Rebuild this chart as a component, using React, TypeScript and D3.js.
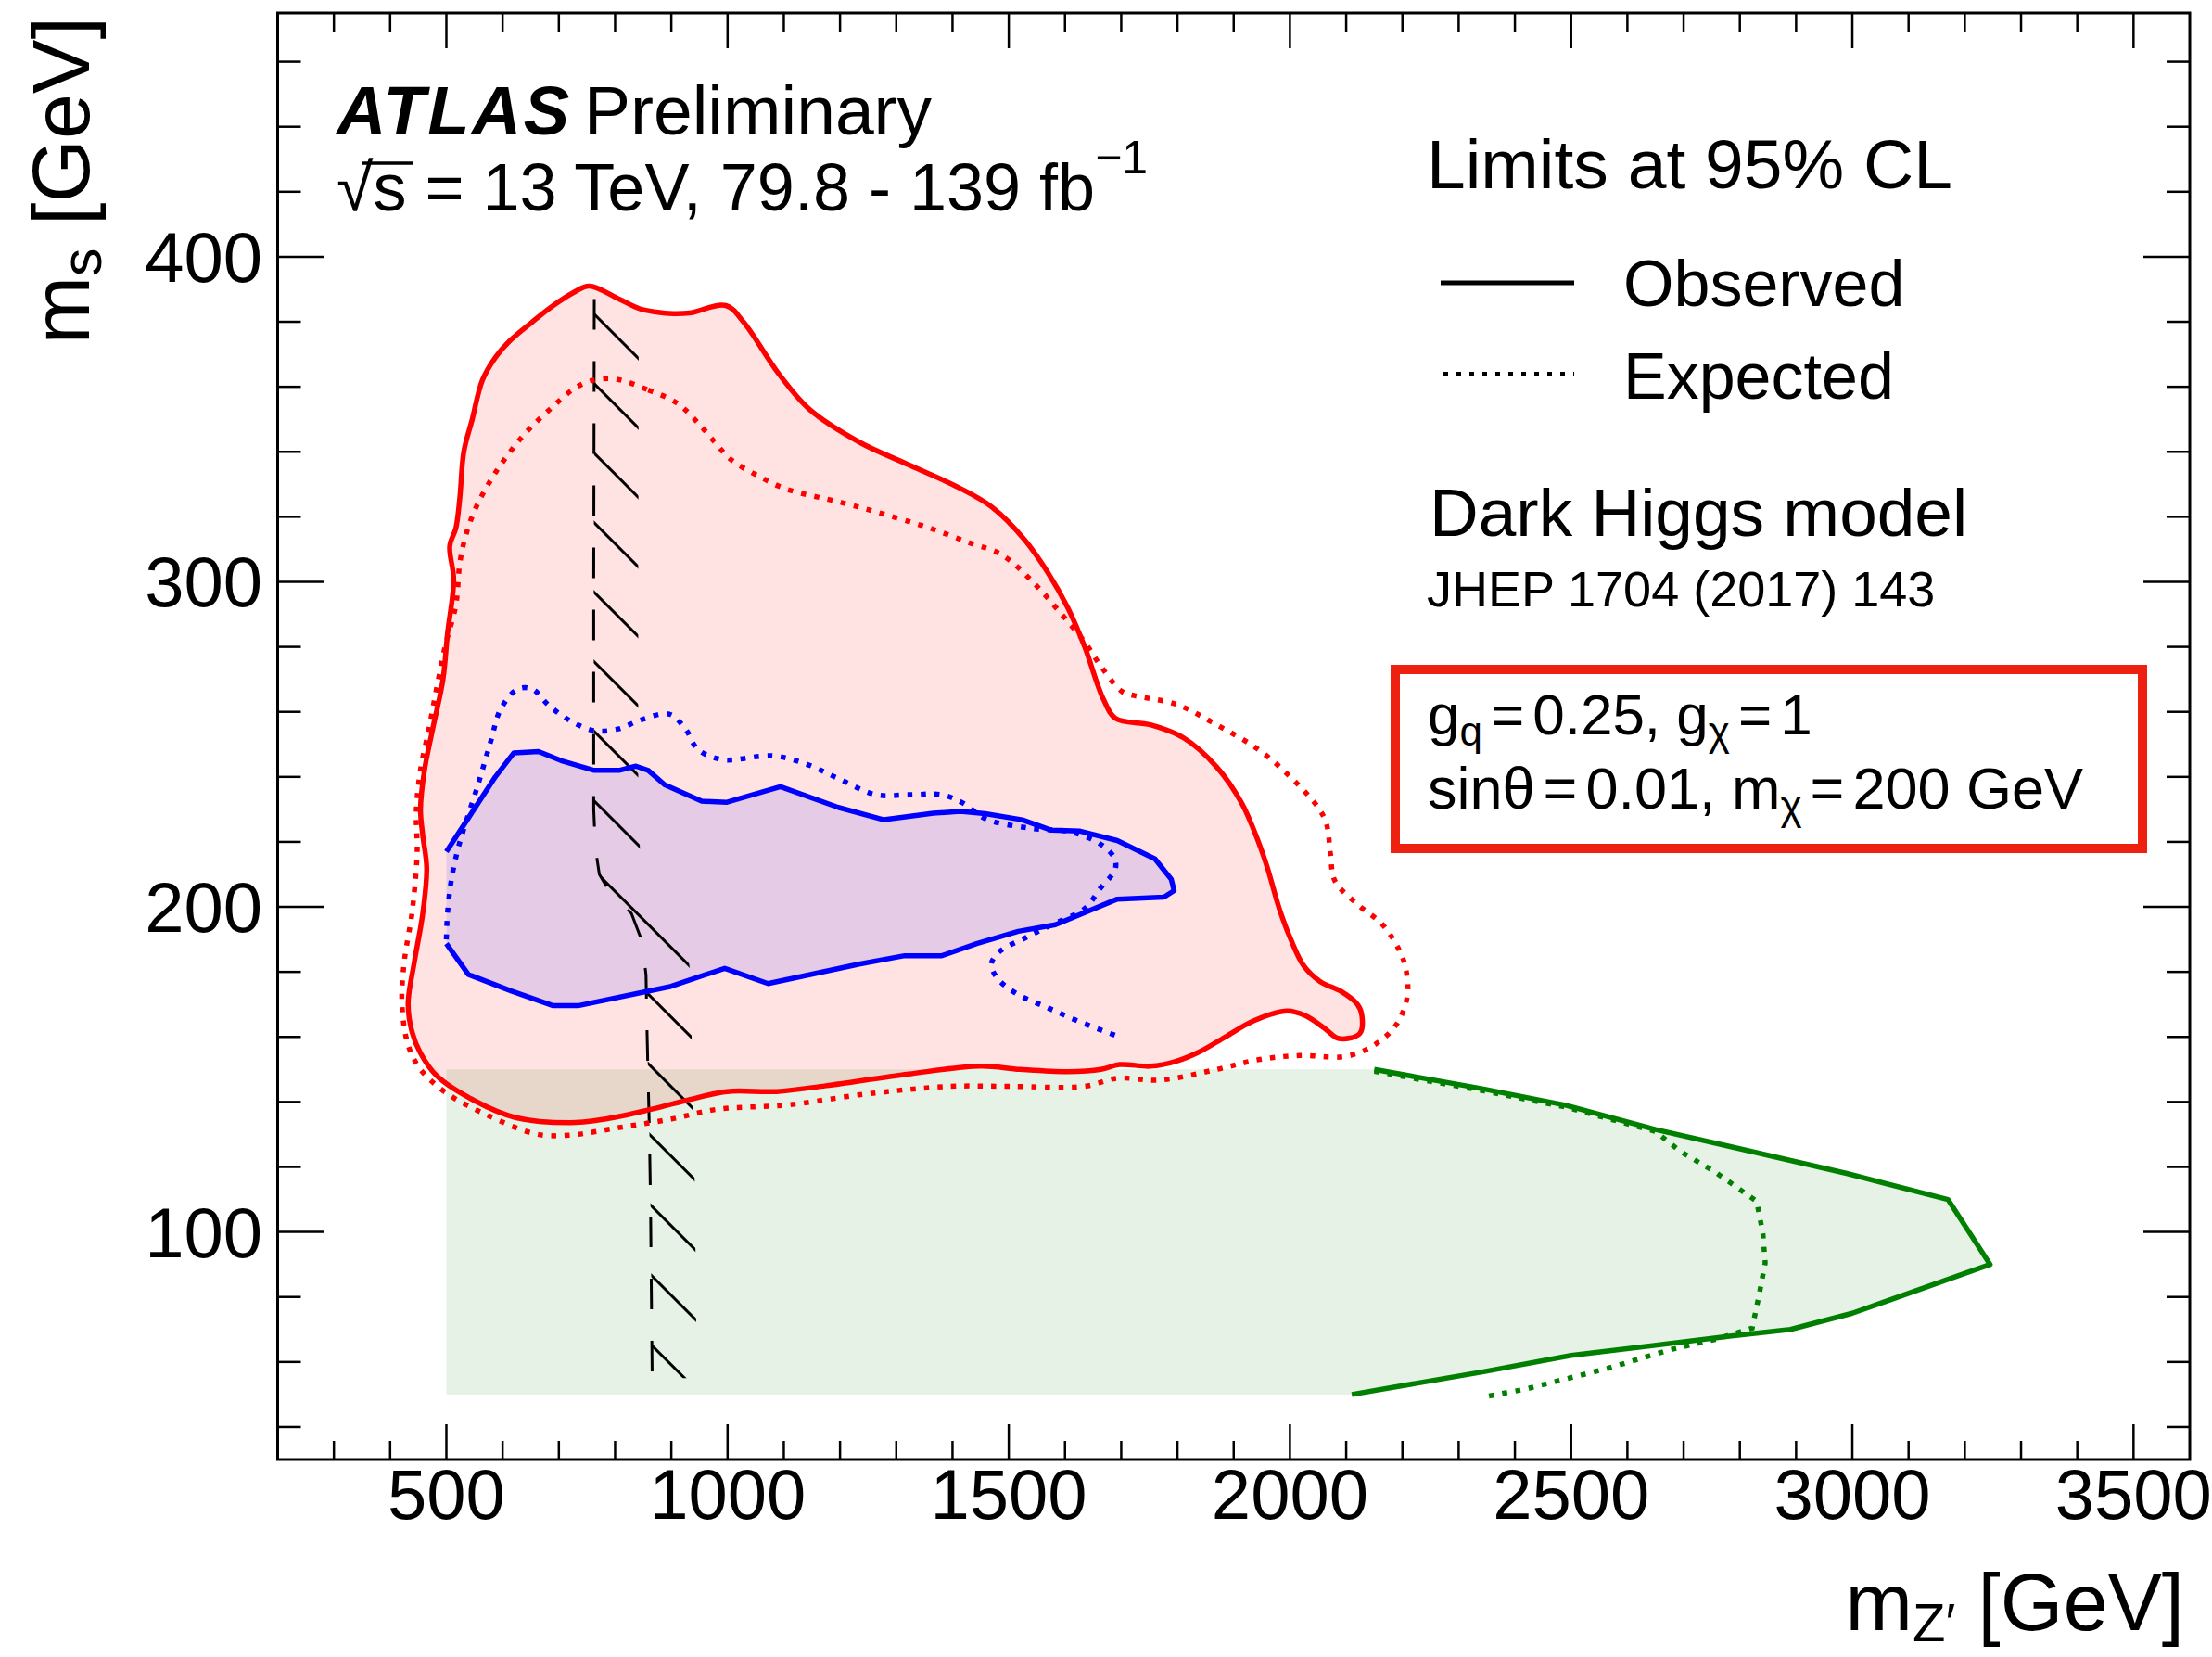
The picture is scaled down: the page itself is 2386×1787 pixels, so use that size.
import React from 'react';
import * as d3 from 'd3';

const W = 2386;
const H = 1787;
const FRAME = { left: 299.5, right: 2362, top: 14, bottom: 1574 };
const X_DOMAIN: [number, number] = [200, 3600];
const Y_DOMAIN: [number, number] = [30, 475];
const X_MAJOR = [500, 1000, 1500, 2000, 2500, 3000, 3500];
const Y_MAJOR = [100, 200, 300, 400];
const X_MINOR = d3.range(300, 3600, 100).filter((v) => v % 500 !== 0);
const Y_MINOR = d3.range(40, 475, 20).filter((v) => v % 100 !== 0);

// [mZ', ms] in GeV
const redObserved: [number, number][] = [
  [754, 391], [807, 387], [844, 384], [873, 383], [903, 382.5], [932, 382.7], [997, 385], [1028, 380],
  [1091, 364], [1146, 353], [1234, 343], [1322, 336], [1411, 329], [1470, 323], [1528, 313], [1569, 303],
  [1605, 292], [1635, 280], [1668, 264], [1690, 258], [1752, 256], [1811, 252], [1870, 243], [1914, 232],
  [1944, 220], [1960, 212], [1981, 199.5], [2003, 189.4], [2024, 182], [2054, 177], [2091, 174], [2120, 170],
  [2128, 166.5], [2124, 161], [2087, 159.5], [2062, 162.6], [2028, 166.5], [1995, 168], [1936, 165],
  [1885, 160], [1841, 155.6], [1797, 152.5], [1752, 151], [1697, 151.5], [1664, 150], [1605, 149.3],
  [1520, 150], [1450, 151], [1322, 148.6], [1175, 145], [1087, 143.2], [999, 143.2], [925, 140.4],
  [851, 137.2], [778, 134.6], [719, 133.6], [623, 135.2], [550, 140.4], [483, 148], [454, 155], [439, 161.5],
  [432, 170.3], [443, 183], [458, 198], [465, 212], [458, 222], [454, 230], [461, 242], [476, 255],
  [494, 270], [502, 284], [513, 300.6], [506, 311], [517, 316.6], [524, 326], [531, 340], [546, 350],
  [564, 362], [587, 369], [612, 374], [653, 380], [690, 385], [726, 389],
];

const redExpected: [number, number][] = [
  [800, 362.4], [859, 359], [910, 355], [947, 349], [977, 343], [1006, 337.6], [1050, 333], [1102, 328.7],
  [1205, 324.3], [1286, 320.4], [1360, 316.5], [1430, 312], [1487, 308.4], [1546, 299.4], [1598, 289.2],
  [1635, 281.5], [1664, 274], [1701, 266.3], [1723, 265], [1797, 262.4], [1870, 256], [1944, 248.4],
  [2003, 239.6], [2050, 230.6], [2065, 225.5], [2072, 216.4], [2080, 208], [2120, 200.8], [2165, 194.5],
  [2194, 186.8], [2205, 181.7], [2209, 172.9], [2190, 164], [2150, 157.5], [2099, 154], [2017, 154.3],
  [1944, 153], [1870, 150], [1767, 146.7], [1693, 147.3], [1635, 144.8], [1502, 144.8], [1396, 144.8],
  [1249, 142.5], [1102, 139], [984, 137.8], [896, 134.6], [807, 132.1], [719, 129.8], [660, 130.1],
  [572, 136], [498, 143], [454, 150], [432, 157.5], [421, 170.3], [425, 183], [439, 198.3], [448, 216.6],
  [446.5, 229.4], [454, 242.2], [469, 254.8], [483, 267.6], [498, 280.3], [517, 293], [524, 305.8],
  [535, 314.6], [553, 323], [579, 331.3], [609, 339], [645, 346.6], [690, 354], [726, 359.3], [756, 361.8],
];

const blueObserved: [number, number][] = [
  [500, 217], [587, 240], [620, 247.4], [664, 247.8], [704, 245], [763, 242], [807, 242], [837, 243.3],
  [859, 242], [888, 237.6], [954, 232.5], [999, 232.2], [1094, 237], [1197, 230.6], [1278, 226.8],
  [1366, 228.8], [1414, 229.4], [1458, 228.7], [1524, 226.8], [1576, 223.6], [1627, 223.3], [1693, 220.4],
  [1760, 214.8], [1789, 208.5], [1794, 205], [1776, 203], [1693, 202.4], [1583, 194.5], [1517, 192.5],
  [1443, 188.7], [1381, 185], [1315, 185], [1234, 182.4], [1072, 176.4], [995, 181.1], [896, 175.4],
  [734, 169.6], [690, 169.6], [616, 174.1], [539, 179.2], [500, 188.7],
];

const blueExpected: [number, number][] = [
  [500, 190], [502, 198], [509, 208.5], [520, 217.4], [531, 224], [557, 238], [579, 251], [597, 261],
  [627, 267], [653, 267], [682, 262], [719, 257.4], [763, 254.2], [807, 254.8], [844, 257.4], [896, 259.3],
  [925, 254.8], [947, 248.5], [991, 245.3], [1080, 246.5], [1139, 244], [1197, 239.5], [1264, 234.5],
  [1322, 234.5], [1381, 234.5], [1418, 232], [1460, 227], [1539, 224.2], [1612, 223], [1664, 219.2],
  [1688, 215], [1690, 212], [1683, 209.7], [1664, 206], [1635, 199.5], [1576, 194.5], [1531, 190.6],
  [1484, 186.3], [1469, 182.4], [1480, 178], [1513, 173.4], [1569, 169], [1627, 164.6], [1697, 160],
];

const greenObserved: [number, number][] = [
  [2150, 150], [2344, 144], [2490, 139], [2650, 131.5], [2790, 126], [2990, 118], [3170, 110], [3245, 90],
  [3000, 75], [2890, 70], [2785, 68], [2500, 62], [2344, 57], [2110, 50],
];
const greenBandCorners: [number, number][] = [[500, 50], [500, 150]];

const greenExpected: [number, number][] = [
  [2150, 150], [2344, 144], [2490, 139], [2650, 131.5], [2693, 125.5], [2756, 119], [2830, 110],
  [2841, 100], [2845, 91], [2834, 81], [2822, 71], [2756, 67.5], [2675, 64.3], [2565, 58.6],
  [2418, 52.2], [2350, 50],
];

const boundaryLine: [number, number][] = [
  [763, 387], [762, 300], [762, 230], [765, 218], [772, 210], [789, 205], [829, 198], [848, 189.4],
  [855, 179], [857, 160], [861, 131], [863, 109], [866, 55],
];

const FONT = "'Liberation Sans', Arial, Helvetica, sans-serif";

export default function App() {
  const x = d3.scaleLinear().domain(X_DOMAIN).range([FRAME.left, FRAME.right]);
  const y = d3.scaleLinear().domain(Y_DOMAIN).range([FRAME.bottom, FRAME.top]);

  const lin = d3.line<[number, number]>().x((d) => x(d[0])).y((d) => y(d[1]));
  const smoothClosed = d3
    .line<[number, number]>()
    .x((d) => x(d[0]))
    .y((d) => y(d[1]))
    .curve(d3.curveCatmullRomClosed.alpha(0.5));
  const smoothOpen = d3
    .line<[number, number]>()
    .x((d) => x(d[0]))
    .y((d) => y(d[1]))
    .curve(d3.curveCatmullRom.alpha(0.5));

  const greenFill = lin([...greenBandCorners, ...greenObserved]) + 'Z';
  const blueFill = lin(blueObserved) + 'Z';
  const redFill = smoothClosed(redObserved) || '';

  // hatch band to the right of boundary line
  const bandW = 48;
  const bandPts = boundaryLine.map((d) => [x(d[0]), y(d[1])]);
  const bandPoly = [
    ...bandPts,
    ...bandPts.slice().reverse().map((p) => [p[0] + bandW, p[1]]),
  ]
    .map((p) => p.join(','))
    .join(' ');
  const hatchC0 = -302.2;
  const hatchStep = 75;
  const hatches = d3.range(-1, 26).map((k) => hatchC0 + k * hatchStep);

  const dot = '5.5 9';
  const redC = '#ff0000';
  const blueC = '#0000ff';
  const greenC = '#007f00';

  return (
    <svg
      width={W}
      height={H}
      viewBox={`0 0 ${W} ${H}`}
      style={{ position: 'absolute', left: 0, top: 0, background: '#fff' }}
      fontFamily={FONT}
    >
      <rect x={0} y={0} width={W} height={H} fill="#fff" />
      <defs>
        <clipPath id="frameClip">
          <rect x={FRAME.left} y={FRAME.top} width={FRAME.right - FRAME.left} height={FRAME.bottom - FRAME.top} />
        </clipPath>
        <clipPath id="bandClip">
          <polygon points={bandPoly} />
        </clipPath>
      </defs>

      <g clipPath="url(#frameClip)">
        {/* fills */}
        <path d={greenFill} fill="rgba(0,128,0,0.1)" stroke="none" />
        <path d={redFill} fill="rgba(255,0,0,0.11)" stroke="none" />
        <path d={blueFill} fill="rgba(0,0,255,0.1)" stroke="none" />

        {/* hatched boundary */}
        <g clipPath="url(#bandClip)">
          {hatches.map((c, i) => (
            <line key={i} x1={550} y1={550 + c} x2={900} y2={900 + c} stroke="#000" strokeWidth={3} />
          ))}
        </g>
        <path d={lin(boundaryLine) || ''} fill="none" stroke="#000" strokeWidth={3} strokeDasharray="33 34" />

        {/* contours */}
        <path d={smoothClosed(redExpected) || ''} fill="none" stroke={redC} strokeWidth={5.5} strokeDasharray={dot} />
        <path d={redFill} fill="none" stroke={redC} strokeWidth={5.5} strokeLinejoin="round" />
        <path d={smoothOpen(blueExpected) || ''} fill="none" stroke={blueC} strokeWidth={5.5} strokeDasharray={dot} />
        <path d={lin(blueObserved) || ''} fill="none" stroke={blueC} strokeWidth={5.5} strokeLinejoin="round" />
        <path d={lin(greenObserved) || ''} fill="none" stroke={greenC} strokeWidth={5.5} strokeLinejoin="round" />
        <path
          d={lin(greenExpected) || ''}
          fill="none"
          stroke={greenC}
          strokeWidth={5.5}
          strokeDasharray={dot}
          transform="translate(0,2)"
        />
      </g>

      {/* frame */}
      <rect
        x={FRAME.left}
        y={FRAME.top}
        width={FRAME.right - FRAME.left}
        height={FRAME.bottom - FRAME.top}
        fill="none"
        stroke="#000"
        strokeWidth={3}
      />

      {/* ticks */}
      <g stroke="#000" strokeWidth={2.5}>
        {X_MAJOR.map((v) => (
          <g key={'xm' + v}>
            <line x1={x(v)} x2={x(v)} y1={FRAME.bottom} y2={FRAME.bottom - 38} />
            <line x1={x(v)} x2={x(v)} y1={FRAME.top} y2={FRAME.top + 38} />
          </g>
        ))}
        {X_MINOR.map((v) => (
          <g key={'xn' + v}>
            <line x1={x(v)} x2={x(v)} y1={FRAME.bottom} y2={FRAME.bottom - 20} />
            <line x1={x(v)} x2={x(v)} y1={FRAME.top} y2={FRAME.top + 20} />
          </g>
        ))}
        {Y_MAJOR.map((v) => (
          <g key={'ym' + v}>
            <line x1={FRAME.left} x2={FRAME.left + 50} y1={y(v)} y2={y(v)} />
            <line x1={FRAME.right} x2={FRAME.right - 50} y1={y(v)} y2={y(v)} />
          </g>
        ))}
        {Y_MINOR.map((v) => (
          <g key={'yn' + v}>
            <line x1={FRAME.left} x2={FRAME.left + 25} y1={y(v)} y2={y(v)} />
            <line x1={FRAME.right} x2={FRAME.right - 25} y1={y(v)} y2={y(v)} />
          </g>
        ))}
      </g>

      {/* tick labels */}
      <g fontSize={76} fill="#000">
        {X_MAJOR.map((v) => (
          <text key={'xl' + v} x={x(v)} y={1638} textAnchor="middle">
            {v}
          </text>
        ))}
        {Y_MAJOR.map((v) => (
          <text key={'yl' + v} x={283} y={y(v) + 27} textAnchor="end">
            {v}
          </text>
        ))}
      </g>

      {/* axis titles */}
      <text x={2356} y={1758} fontSize={87} textAnchor="end">
        m<tspan fontSize={58} dy={12}>Z′</tspan>
        <tspan dy={-12}> [GeV]</tspan>
      </text>
      <text transform="translate(96,18) rotate(-90)" fontSize={88} textAnchor="end">
        m<tspan fontSize={61} dy={13}>s</tspan>
        <tspan dy={-13}> [GeV]</tspan>
      </text>

      {/* ATLAS label */}
      <text x={363} y={145} fontSize={74} fontWeight="bold" fontStyle="italic" letterSpacing={2.5}>
        ATLAS
      </text>
      <text x={630} y={145} fontSize={75}>
        Preliminary
      </text>
      <text x={363} y={227} fontSize={72}>
        √s = 13 TeV, 79.8 - 139 fb<tspan fontSize={50} dy={-40}>−1</tspan>
      </text>
      <line x1={391} x2={446} y1={176} y2={176} stroke="#000" strokeWidth={3.5} />

      {/* legend */}
      <text x={1539} y={203} fontSize={75}>
        Limits at 95% CL
      </text>
      <line x1={1554} x2={1698} y1={305} y2={305} stroke="#000" strokeWidth={5} />
      <text x={1751} y={330} fontSize={70}>
        Observed
      </text>
      <line x1={1557} x2={1698} y1={403} y2={403} stroke="#000" strokeWidth={4} strokeDasharray="5 9" />
      <text x={1751} y={430} fontSize={70}>
        Expected
      </text>
      <text x={1542} y={578} fontSize={73}>
        Dark Higgs model
      </text>
      <text x={1539} y={654} fontSize={54}>
        JHEP 1704 (2017) 143
      </text>

      <rect x={1505} y={722} width={806} height={193} fill="#fff" stroke="#ee2010" strokeWidth={10} />
      <text x={1540} y={792} fontSize={62}>
        g<tspan fontSize={44} dy={12}>q</tspan>
        <tspan dy={-12} dx={9}>=</tspan>
        <tspan dx={9}>0.25, g</tspan>
        <tspan fontSize={44} dy={12}>χ</tspan>
        <tspan dy={-12} dx={9}>=</tspan>
        <tspan dx={9}>1</tspan>
      </text>
      <text x={1540} y={872} fontSize={63}>
        sinθ<tspan dx={9}>=</tspan>
        <tspan dx={9}>0.01, m</tspan>
        <tspan fontSize={44} dy={12}>χ</tspan>
        <tspan dy={-12} dx={9}>=</tspan>
        <tspan dx={9}>200 GeV</tspan>
      </text>
    </svg>
  );
}
